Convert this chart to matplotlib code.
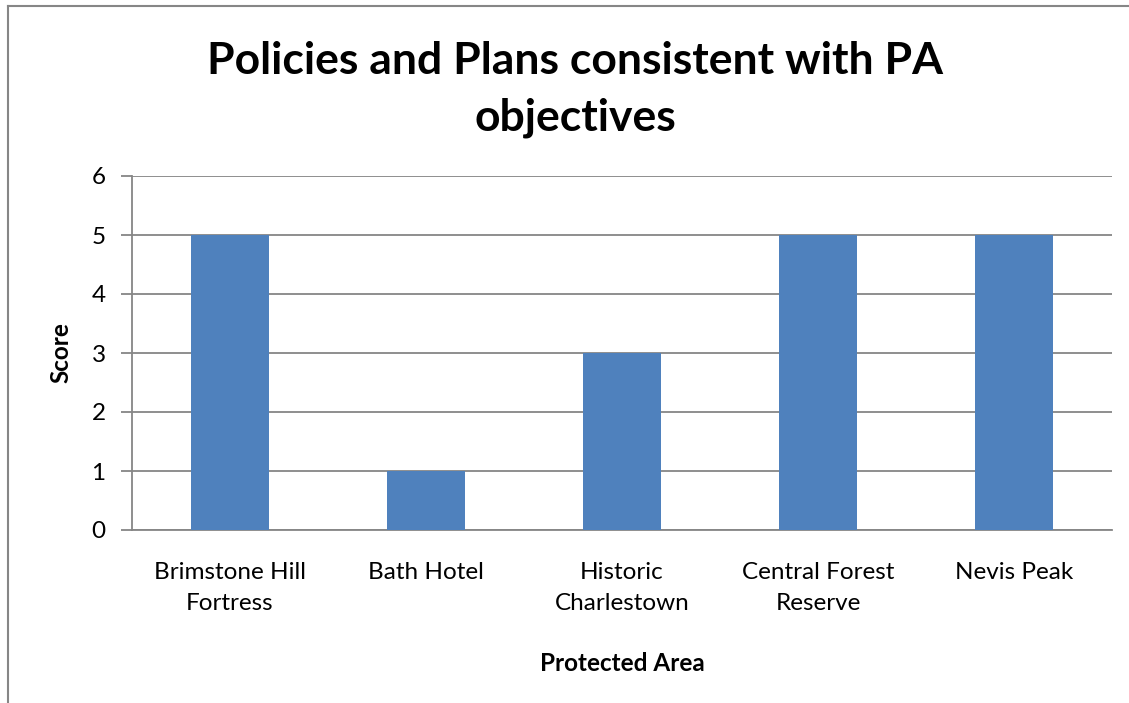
import matplotlib.pyplot as plt
import numpy as np

# Данные
areas = ["Brimstone Hill\nFortress", "Bath Hotel", "Historic\nCharlestown",
         "Central Forest\nReserve", "Nevis Peak"]
scores = [5, 1, 3, 5, 5]
y_ticks = [0, 1, 2, 3, 4, 5, 6]

plt.rcParams['font.family'] = ['Lato', 'DejaVu Sans']

fig = plt.figure(figsize=(11.29, 7.03), dpi=100)
ax = fig.add_axes([132 / 1129, 1 - 530 / 703, 980 / 1129, 354 / 703])

x = np.arange(len(areas))
ax.bar(x, scores, width=0.4, color='#4F81BD', zorder=3)

ax.set_xlim(-0.5, len(areas) - 0.5)
ax.set_ylim(0, 6)
ax.set_yticks(y_ticks)
ax.set_xticks(x)
ax.set_xticklabels(areas, fontsize=17.5, linespacing=1.6)
ax.tick_params(axis='x', length=0, pad=23)
ax.tick_params(axis='y', length=8, width=1.3, color='#868686', labelsize=17.5, pad=11)
ax.yaxis.grid(True, color='#868686', linewidth=1.3, zorder=0)

for side in ['top', 'right']:
    ax.spines[side].set_visible(False)
for side in ['left', 'bottom']:
    ax.spines[side].set_color('#868686')
    ax.spines[side].set_linewidth(1.3)

ax.set_ylabel('Score', fontsize=17.5, fontweight='bold', labelpad=14)
ax.set_xlabel('Protected Area', fontsize=17.5, fontweight='bold', labelpad=27)

fig.text(575 / 1129, 1 - 89 / 703, 'Policies and Plans consistent with PA\nobjectives',
         ha='center', va='center', fontsize=32, fontweight='bold', linespacing=1.5)

# Рамка диаграммы (видны только левая и верхняя стороны)
fig.add_artist(plt.Line2D([8 / 1129, 8 / 1129], [0, 1 - 6 / 703], color='#868686', linewidth=1.5))
fig.add_artist(plt.Line2D([8 / 1129, 1], [1 - 6 / 703, 1 - 6 / 703], color='#868686', linewidth=1.5))

plt.savefig('out.png')
plt.close()
